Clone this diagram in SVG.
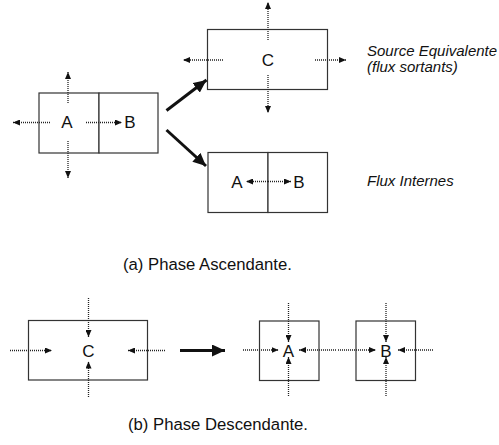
<svg xmlns="http://www.w3.org/2000/svg" width="499" height="445" viewBox="0 0 499 445">
<style>
.box{fill:#fff;stroke:#333;stroke-width:1.2}
.lbl{font-family:"Liberation Sans",Arial,sans-serif;font-size:17px;fill:#111;text-anchor:middle}
.cap{font-family:"Liberation Sans",Arial,sans-serif;font-size:16.7px;fill:#111}
.it{font-family:"Liberation Sans",Arial,sans-serif;font-size:15px;font-style:italic;fill:#111}
.dot{stroke:#222;stroke-width:1.3;stroke-dasharray:1 1;fill:none;marker-end:url(#ah)}
.thick{stroke:#111;stroke-width:3;fill:none;marker-end:url(#big)}
</style>
<defs>
<marker id="ah" markerUnits="userSpaceOnUse" markerWidth="8" markerHeight="6" refX="7" refY="3" orient="auto">
<path d="M0,0 L7,3 L0,6 z" fill="#111"/>
</marker>
<marker id="big" markerUnits="userSpaceOnUse" markerWidth="14" markerHeight="12" refX="13" refY="6" orient="auto">
<path d="M0,0 L13,6 L0,12 z" fill="#111"/>
</marker>
</defs>

<g id="nodeAB-top">
<rect class="box" x="39" y="93" width="60" height="60"/>
<rect class="box" x="99" y="93" width="59" height="60"/>
<text class="lbl" x="67" y="128">A</text>
<text class="lbl" x="130" y="128">B</text>
</g>
<g id="nodeC-top">
<rect class="box" x="207.5" y="29.5" width="120" height="60"/>
<text class="lbl" x="268" y="66">C</text>
</g>
<g id="nodeAB-internal">
<rect class="box" x="208" y="152.5" width="60" height="60"/>
<rect class="box" x="268" y="152.5" width="59.5" height="60"/>
<text class="lbl" x="237" y="187.5">A</text>
<text class="lbl" x="299" y="187.5">B</text>
</g>
<g id="nodeC-bottom">
<rect class="box" x="28.5" y="320.5" width="119" height="59.5"/>
<text class="lbl" x="88.5" y="357">C</text>
</g>
<g id="nodeA-bottom">
<rect class="box" x="259.5" y="321" width="59.5" height="59.5"/>
<text class="lbl" x="288.5" y="356.5">A</text>
</g>
<g id="nodeB-bottom">
<rect class="box" x="356" y="321" width="59.5" height="59.5"/>
<text class="lbl" x="386" y="356.5">B</text>
</g>

<g id="texts">
<text class="it" x="367" y="56">Source Equivalente</text>
<text class="it" x="367" y="72">(flux sortants)</text>
<text class="it" x="367" y="186">Flux Internes</text>
<text class="cap" x="123" y="270">(a) Phase Ascendante.</text>
<text class="cap" x="128" y="430">(b) Phase Descendante.</text>
</g>

<g id="connectors">
<line class="dot" x1="68" y1="103" x2="68" y2="72"/>
<line class="dot" x1="68" y1="141" x2="68" y2="178"/>
<line class="dot" x1="50" y1="122.5" x2="13" y2="122.5"/>
<line class="dot" x1="86" y1="122.5" x2="122" y2="122.5"/>
<line class="dot" x1="268" y1="40" x2="268" y2="2"/>
<line class="dot" x1="268" y1="75" x2="268" y2="113"/>
<line class="dot" x1="223" y1="60" x2="183" y2="60"/>
<line class="dot" x1="315" y1="60" x2="346" y2="60"/>
<line class="dot" x1="268" y1="181.5" x2="246" y2="181.5"/>
<line class="dot" x1="268" y1="181.5" x2="291" y2="181.5"/>
<line class="thick" x1="166.5" y1="110.5" x2="206.5" y2="80"/>
<line class="thick" x1="166.5" y1="130" x2="206" y2="166"/>
<line class="thick" x1="180" y1="350.5" x2="225" y2="350.5"/>
<line class="dot" x1="88.5" y1="298" x2="88.5" y2="337"/>
<line class="dot" x1="88.5" y1="397" x2="88.5" y2="361.5"/>
<line class="dot" x1="10" y1="350.5" x2="52" y2="350.5"/>
<line class="dot" x1="165" y1="350.5" x2="128" y2="350.5"/>
<line class="dot" x1="288.5" y1="303" x2="288.5" y2="342"/>
<line class="dot" x1="288.5" y1="396" x2="288.5" y2="357"/>
<line class="dot" x1="243" y1="350" x2="278.5" y2="350"/>
<line class="dot" x1="336" y1="350" x2="299" y2="350"/>
<line class="dot" x1="386" y1="303" x2="386" y2="342"/>
<line class="dot" x1="386" y1="396" x2="386" y2="357"/>
<line class="dot" x1="338" y1="350" x2="376" y2="350"/>
<line class="dot" x1="433" y1="350" x2="398" y2="350"/>
</g>
</svg>
